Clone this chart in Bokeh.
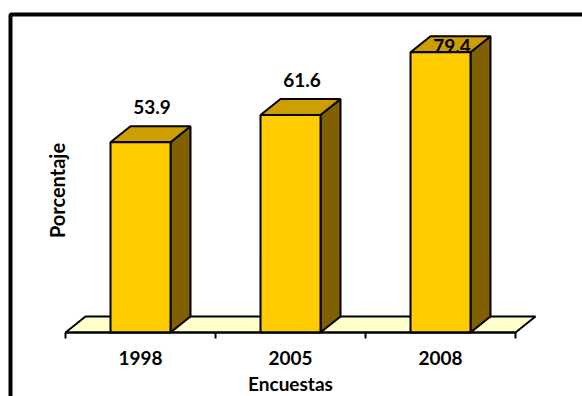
import math
from bokeh.plotting import figure
from bokeh.models import Range1d, ColumnDataSource
from bokeh.core.properties import value
from bokeh.embed import file_html
from bokeh.resources import INLINE

# ---- data ----
categories = ["1998", "2005", "2008"]
values = [53.9, 61.6, 79.4]
x_title = "Encuestas"
y_title = "Porcentaje"

# ---- layout / style ----
W, H = 582, 396
PX_PER_CAT = 150.0       # pixels per category
PX_PER_UNIT = 3.53       # pixels per percent
X0_PX = 140.0            # pixel position of first category centre
Y0_PX = 332.0            # pixel position of value 0

def px2x(px):
    return (px - X0_PX) / PX_PER_CAT

def py2y(py):
    return (Y0_PX - py) / PX_PER_UNIT

FONT = "Lato"
FS = "19px"
FRONT = "#FFCC00"
TOP = "#CC9E00"
SIDE = "#806000"
FLOOR = "#FFFFCC"

hw = 30.0 / PX_PER_CAT          # half bar width
dx = 20.0 / PX_PER_CAT          # depth offset x
dy = 16.0 / PX_PER_UNIT         # depth offset y

p = figure(width=W, height=H, output_backend="svg", toolbar_location=None,
           x_range=Range1d(px2x(0), px2x(W)), y_range=Range1d(py2y(H), py2y(0)),
           min_border=0, min_border_left=0, min_border_right=0,
           min_border_top=0, min_border_bottom=0)
p.axis.visible = False
p.grid.visible = False
p.outline_line_color = None
p.background_fill_color = "white"
p.border_fill_color = "white"

n = len(categories)
xs = list(range(n))

# outer border (left and top edges)
p.line([px2x(10), px2x(10), px2x(W + 10)], [py2y(H + 10), py2y(14), py2y(14)],
       line_color="black", line_width=4)

# floor
left_e, right_e = -0.5, n - 0.5
p.patch([left_e, left_e + dx, right_e + dx, right_e],
        [0, dy, dy, 0], fill_color=FLOOR, line_color="black", line_width=2)

# bars
front = ColumnDataSource(dict(left=[i - hw for i in xs], right=[i + hw for i in xs],
                              top=values, bottom=[0] * n))
top_xs = [[i - hw, i - hw + dx, i + hw + dx, i + hw] for i in xs]
top_ys = [[v, v + dy, v + dy, v] for v in values]
side_xs = [[i + hw, i + hw + dx, i + hw + dx, i + hw] for i in xs]
side_ys = [[0, dy, v + dy, v] for v in values]
p.patches(side_xs, side_ys, fill_color=SIDE, line_color="black", line_width=2)
p.patches(top_xs, top_ys, fill_color=TOP, line_color="black", line_width=2)
p.quad(source=front, left="left", right="right", top="top", bottom="bottom",
       fill_color=FRONT, line_color="black", line_width=2)

# value labels
lab_y = [min(v + 10.0, 81.2) for v in values]
lab_x = [i + dx / 2 + 0.01 for i in xs]
p.text(lab_x, lab_y, text=[f"{v:.1f}" for v in values], text_font=value(FONT),
       text_font_style="bold", text_font_size=FS, text_align="center",
       text_baseline="middle", text_color="black")

# x axis line and ticks
p.line([left_e, right_e], [0, 0], line_color="black", line_width=2)
tick_x = [k - 0.5 for k in range(n + 1)]
p.segment(tick_x, [0] * len(tick_x), tick_x, [py2y(Y0_PX + 6)] * len(tick_x),
          line_color="black", line_width=2)

# tick labels
p.text(xs, [py2y(357.5)] * n, text=categories, text_font=value(FONT),
       text_font_style="bold", text_font_size=FS, text_align="center",
       text_baseline="middle", text_color="black")

# axis titles
p.text([1], [py2y(383)], text=[x_title], text_font=value(FONT),
       text_font_style="bold", text_font_size=FS, text_align="center",
       text_baseline="middle", text_color="black")
p.text([px2x(56.5)], [py2y(190)], text=[y_title], angle=math.pi / 2,
       text_font=value(FONT), text_font_style="bold", text_font_size="20px",
       text_align="center", text_baseline="middle", text_color="black")

open("out.html", "w").write(file_html(p, INLINE))
